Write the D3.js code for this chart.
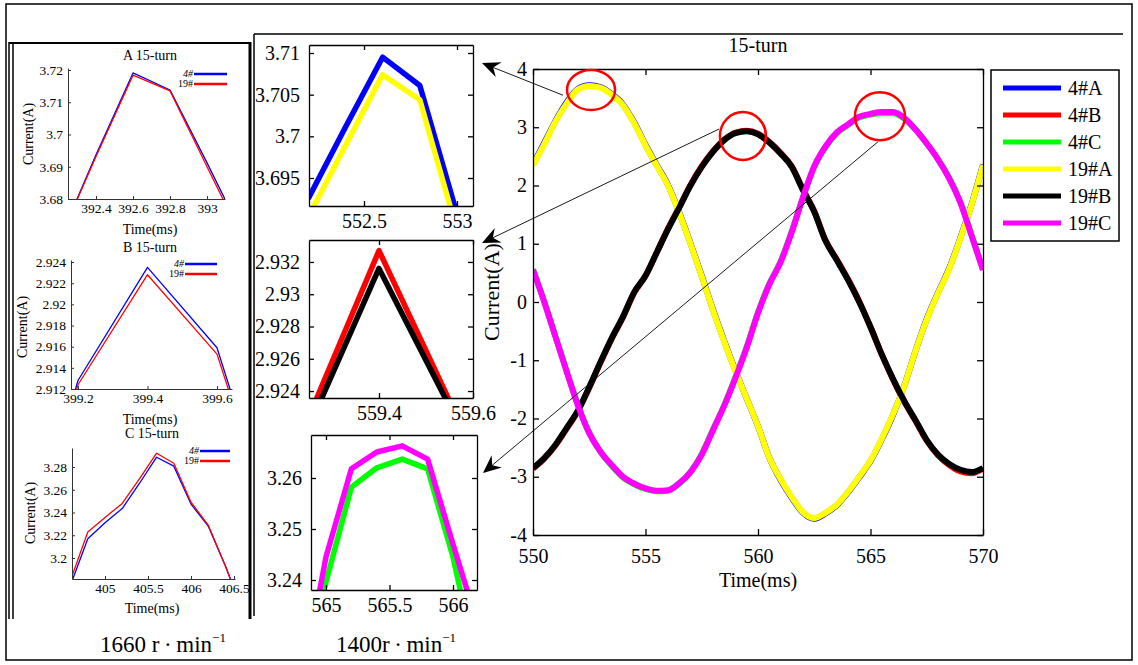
<!DOCTYPE html>
<html><head><meta charset="utf-8">
<script src="https://cdn.jsdelivr.net/npm/d3@7"></script>
<style>
body{margin:0;background:#fff}
svg text{font-family:"Liberation Serif","Times New Roman",serif;fill:#000}
</style>
</head><body>
<script>
// ---------------- DATA ----------------
// main chart (15-turn), 1400 r/min
const mainTime = [550,550.5,551,551.5,552,552.5,553,553.5,554,554.5,555,555.5,556,556.5,557,557.5,558,558.5,559,559.5,560,560.5,561,561.5,562,562.5,563,563.5,564,564.5,565,565.5,566,566.5,567,567.5,568,568.5,569,569.5,570];
const a4  = [2.36,2.73,3.11,3.43,3.66,3.72,3.69,3.57,3.39,3.08,2.70,2.35,2.01,1.54,1.01,0.45,-0.13,-0.67,-1.18,-1.66,-2.13,-2.67,-3.05,-3.36,-3.62,-3.72,-3.63,-3.49,-3.27,-3.01,-2.73,-2.36,-1.94,-1.44,-0.84,-0.29,0.16,0.58,1.11,1.69,2.36];
const b4  = [-2.86,-2.69,-2.46,-2.17,-1.87,-1.47,-1.04,-0.63,-0.26,0.16,0.45,0.85,1.26,1.63,2.01,2.33,2.59,2.79,2.91,2.94,2.89,2.75,2.56,2.33,1.93,1.56,1.06,0.73,0.39,0.01,-0.43,-0.90,-1.33,-1.71,-2.04,-2.38,-2.63,-2.80,-2.91,-2.94,-2.86];
const c4  = [0.56,0.01,-0.59,-1.19,-1.77,-2.25,-2.57,-2.81,-3.01,-3.13,-3.21,-3.25,-3.24,-3.12,-2.92,-2.61,-2.19,-1.77,-1.29,-0.77,-0.18,0.31,0.69,1.21,1.79,2.32,2.66,2.90,3.04,3.17,3.22,3.24,3.24,3.15,2.96,2.72,2.45,2.13,1.71,1.14,0.56];
const a19 = [2.35,2.71,3.10,3.41,3.65,3.71,3.68,3.56,3.38,3.07,2.69,2.34,2.00,1.53,1.00,0.44,-0.14,-0.68,-1.19,-1.66,-2.13,-2.67,-3.04,-3.35,-3.61,-3.71,-3.62,-3.48,-3.26,-3.00,-2.72,-2.35,-1.93,-1.44,-0.84,-0.30,0.15,0.57,1.10,1.68,2.35];
const b19 = [-2.85,-2.68,-2.45,-2.16,-1.86,-1.46,-1.03,-0.62,-0.25,0.17,0.45,0.85,1.25,1.62,2.00,2.32,2.58,2.78,2.90,2.93,2.88,2.74,2.55,2.32,1.92,1.55,1.05,0.72,0.38,0.00,-0.43,-0.90,-1.32,-1.70,-2.03,-2.37,-2.62,-2.78,-2.88,-2.92,-2.85];
const c19 = [0.55,0.00,-0.60,-1.20,-1.78,-2.25,-2.57,-2.80,-3.00,-3.12,-3.20,-3.24,-3.23,-3.11,-2.92,-2.62,-2.20,-1.78,-1.30,-0.78,-0.19,0.30,0.68,1.20,1.80,2.33,2.67,2.91,3.05,3.18,3.23,3.26,3.26,3.16,2.96,2.72,2.45,2.12,1.70,1.13,0.55];
const mainSeriesNames = ["4#A","4#B","4#C","19#A","19#B","19#C"];
const mainColors = ["#0000ff","#ff0000","#00ff00","#ffff00","#000000","#ff00ff"];
const mainXTicks = [550,555,560,565,570];
const mainYTicks = [-4,-3,-2,-1,0,1,2,3,4];

// zoomed insets, 1400 r/min
const insAT = [552.2,552.4,552.6,552.8,553.0];
const insA4 = [3.6925,3.7011,3.7095,3.7061,3.6907];
const insA19 = [3.6903,3.6989,3.7074,3.7044,3.6887];
const insAXTicks = [552.5,553];
const insAYTicks = [3.695,3.7,3.705,3.71];

const insBT = [559.2,559.4,559.6];
const insB4 = [2.9189,2.9327,2.9203];
const insB19 = [2.9184,2.9316,2.9202];
const insBXTicks = [559.4,559.6];
const insBYTicks = [2.924,2.926,2.928,2.93,2.932];

const insCT = [564.8,565.0,565.2,565.4,565.6,565.8,566.0,566.2];
const insC4 = [3.2209,3.2396,3.2582,3.2620,3.2637,3.2618,3.2445,3.2219];
const insC19 = [3.2180,3.2445,3.2618,3.2651,3.2663,3.2637,3.2470,3.2308];
const insCXTicks = [565,565.5,566];
const insCYTicks = [3.24,3.25,3.26];

// 1660 r/min comparison panels
const leftAT = [392.2,392.4,392.6,392.8,393.0,393.2];
const leftA4 = [3.6670,3.6937,3.7191,3.7138,3.6912,3.6679];
const leftA19 = [3.6670,3.6932,3.7184,3.7135,3.6900,3.6666];
const leftAXTicks = [392.4,392.6,392.8,393];
const leftAYTicks = [3.68,3.69,3.7,3.71,3.72];

const leftBT = [399.0,399.2,399.4,399.6,399.8];
const leftB4 = [2.8900,2.9128,2.9235,2.9159,2.8951];
const leftB19 = [2.8900,2.9124,2.9228,2.9153,2.8950];
const leftBXTicks = [399.2,399.4,399.6];
const leftBYTicks = [2.912,2.914,2.916,2.918,2.92,2.922,2.924];

const leftCT = [404.6,404.8,405.0,405.2,405.4,405.6,405.8,406.0,406.2,406.4,406.6];
const leftC4 = [3.1763,3.2170,3.2310,3.2435,3.2655,3.2886,3.2807,3.2474,3.2281,3.1930,3.1544];
const leftC19 = [3.1807,3.2228,3.2356,3.2480,3.2695,3.2921,3.2833,3.2491,3.2289,3.1930,3.1526];
const leftCXTicks = [405,405.5,406,406.5];
const leftCYTicks = [3.2,3.22,3.24,3.26,3.28];

// ---------------- DRAWING ----------------
const W = 1138, H = 665;
const svg = d3.select("body").append("svg").attr("width", W).attr("height", H);
svg.append("rect").attr("width", W).attr("height", H).attr("fill", "#fff");
const defs = svg.append("defs");
let clipN = 0;

function styleAxis(g, fs, sw, col) {
  g.select(".domain").attr("stroke", col).attr("stroke-width", sw);
  g.selectAll(".tick line").attr("stroke", col).attr("stroke-width", sw);
  g.selectAll(".tick text").attr("font-size", fs).attr("fill", "#000")
    .attr("font-family", '"Liberation Serif","Times New Roman",serif');
}

function panel(c) {
  const x = d3.scaleLinear().domain(c.xDomain).range([c.left, c.right]);
  const y = d3.scaleLinear().domain(c.yDomain).range([c.bottom, c.top]);
  const id = "clip" + (clipN++);
  defs.append("clipPath").attr("id", id).append("rect")
    .attr("x", c.left).attr("y", c.top).attr("width", c.right - c.left).attr("height", c.bottom - c.top);
  const g = svg.append("g");
  const lg = g.append("g").attr("clip-path", `url(#${id})`);
  const line = d3.line().x(d => x(d[0])).y(d => y(d[1])).curve(c.curve || d3.curveLinear);
  c.series.forEach(s => {
    lg.append("path").datum(s.t.map((t, i) => [t, s.v[i]]))
      .attr("d", line).attr("fill", "none").attr("stroke", s.color)
      .attr("stroke-width", s.w).attr("stroke-linejoin", "round").attr("stroke-linecap", "butt");
  });
  const fmt = d => String(d);
  const col = c.axisColor || "#000";
  const gb = g.append("g").attr("transform", `translate(0,${c.bottom})`)
    .call(d3.axisBottom(x).tickValues(c.xTicks).tickFormat(fmt).tickSizeInner(-c.tick).tickSizeOuter(0).tickPadding(c.xPad));
  styleAxis(gb, c.fs, c.sw, col);
  const gl = g.append("g").attr("transform", `translate(${c.left},0)`)
    .call(d3.axisLeft(y).tickValues(c.yTicks).tickFormat(fmt).tickSizeInner(-c.tick).tickSizeOuter(0).tickPadding(c.yPad));
  styleAxis(gl, c.fs, c.sw, col);
  if (c.yDy) gl.selectAll(".tick text").attr("dy", c.yDy);
  if (c.box) {
    const gt = g.append("g").attr("transform", `translate(0,${c.top})`)
      .call(d3.axisTop(x).tickValues(c.xTicks).tickFormat("").tickSizeInner(-c.tick).tickSizeOuter(0));
    styleAxis(gt, c.fs, c.sw, col);
    const gr = g.append("g").attr("transform", `translate(${c.right},0)`)
      .call(d3.axisRight(y).tickValues(c.yTicks).tickFormat("").tickSizeInner(-c.tick).tickSizeOuter(0));
    styleAxis(gr, c.fs, c.sw, col);
  }
  return {x, y, g};
}

// ---- outer frames ----
svg.append("rect").attr("x", 6).attr("y", 4).attr("width", 1126).attr("height", 656)
  .attr("fill", "none").attr("stroke", "#000").attr("stroke-width", 1.5);
// left panel frame (double left edge, heavy right edge)
svg.append("line").attr("x1", 9).attr("x2", 9).attr("y1", 42).attr("y2", 619).attr("stroke", "#000").attr("stroke-width", 1.5);
svg.append("line").attr("x1", 13).attr("x2", 13).attr("y1", 44).attr("y2", 619).attr("stroke", "#000").attr("stroke-width", 1.5);
svg.append("line").attr("x1", 9).attr("x2", 251).attr("y1", 43).attr("y2", 43).attr("stroke", "#000").attr("stroke-width", 2);
svg.append("line").attr("x1", 250).attr("x2", 250).attr("y1", 42).attr("y2", 619).attr("stroke", "#000").attr("stroke-width", 3);
// right composite frame
svg.append("line").attr("x1", 254).attr("x2", 1123).attr("y1", 34).attr("y2", 34).attr("stroke", "#000").attr("stroke-width", 1.5);
svg.append("line").attr("x1", 254).attr("x2", 254).attr("y1", 34).attr("y2", 616).attr("stroke", "#000").attr("stroke-width", 1.5);

// ---- main chart ----
const mainVals = [a4, b4, c4, a19, b19, c19];
const M = panel({
  left: 533, right: 983, top: 69, bottom: 535,
  xDomain: [550, 570], yDomain: [-4, 4],
  xTicks: mainXTicks, yTicks: mainYTicks, tick: 6, xPad: 14, yPad: 6, fs: 20, sw: 1.3, box: true, yDy: "0.3em",
  curve: d3.curveMonotoneX,
  series: mainVals.map((v, i) => ({t: mainTime, v, color: mainColors[i], w: 6}))
});
svg.append("text").attr("x", 758).attr("y", 52).attr("text-anchor", "middle").attr("font-size", 20).text("15-turn");
svg.append("text").attr("x", 758).attr("y", 587).attr("text-anchor", "middle").attr("font-size", 20).text("Time(ms)");
svg.append("text").attr("transform", "translate(499,292) rotate(-90)").attr("text-anchor", "middle").attr("font-size", 22).text("Current(A)");

// legend
const leg = svg.append("g");
leg.append("rect").attr("x", 991).attr("y", 70).attr("width", 128).attr("height", 171)
  .attr("fill", "#fff").attr("stroke", "#000").attr("stroke-width", 1.5);
mainSeriesNames.forEach((n, i) => {
  const yy = 88 + i * 27;
  leg.append("line").attr("x1", 1003).attr("x2", 1061).attr("y1", yy).attr("y2", yy)
    .attr("stroke", mainColors[i]).attr("stroke-width", 5);
  leg.append("text").attr("x", 1068).attr("y", yy).attr("dy", "0.35em").attr("font-size", 20).text(n);
});

// ---- insets ----
const IA = panel({
  left: 309, right: 473, top: 45, bottom: 206,
  xDomain: [552.2043, 553.086], yDomain: [3.69164, 3.71096],
  xTicks: insAXTicks, yTicks: insAYTicks, tick: 5, xPad: 8, yPad: 9, fs: 20, sw: 1.3, box: true,
  series: [{t: insAT, v: insA4, color: "#0000ff", w: 5.5}, {t: insAT, v: insA19, color: "#ffff00", w: 5.5}]
});
const IB = panel({
  left: 309, right: 473, top: 240, bottom: 398,
  xDomain: [559.2511, 559.6], yDomain: [2.92357, 2.93336],
  xTicks: insBXTicks, yTicks: insBYTicks, tick: 5, xPad: 8, yPad: 9, fs: 20, sw: 1.3, box: true,
  series: [{t: insBT, v: insB4, color: "#ff0000", w: 5.5}, {t: insBT, v: insB19, color: "#000000", w: 5.5}]
});
const IC = panel({
  left: 311, right: 477, top: 435, bottom: 590,
  xDomain: [564.882, 566.189], yDomain: [3.23804, 3.26843],
  xTicks: insCXTicks, yTicks: insCYTicks, tick: 5, xPad: 8, yPad: 9, fs: 20, sw: 1.3, box: true,
  series: [{t: insCT, v: insC4, color: "#00ff00", w: 5.5}, {t: insCT, v: insC19, color: "#ff00ff", w: 5.5}]
});

// ---- red circles + arrows ----
const circles = [[552.58, 3.64, 24, 20], [559.33, 2.85, 23, 24], [565.42, 3.19, 25, 24]];
circles.forEach(([t, v, rx, ry]) => {
  svg.append("ellipse").attr("cx", M.x(t)).attr("cy", M.y(v)).attr("rx", rx).attr("ry", ry)
    .attr("fill", "none").attr("stroke", "#ff0000").attr("stroke-width", 2.5);
});
function arrow(x1, y1, x2, y2) {
  const ang = Math.atan2(y2 - y1, x2 - x1);
  const L = 18, Wd = 8, N = 12;
  const P = ([a, b]) => [x2 + a * Math.cos(ang) - b * Math.sin(ang), y2 + a * Math.sin(ang) + b * Math.cos(ang)];
  const nb = P([-N, 0]);
  svg.append("line").attr("x1", x1).attr("y1", y1).attr("x2", nb[0]).attr("y2", nb[1])
    .attr("stroke", "#000").attr("stroke-width", 0.9);
  svg.append("polygon").attr("points", [[0, 0], [-L, -Wd], [-N, 0], [-L, Wd]].map(P).map(p => p.join(",")).join(" "))
    .attr("fill", "#000");
}
arrow(M.x(551.33), M.y(3.55), 482, 63);
arrow(M.x(558.27), M.y(2.97), 482, 243);
arrow(M.x(565.33), M.y(2.75), 483, 473);

// ---- 1660 r/min panels ----
const lp = {tick: 3, xPad: 4, yPad: 5, fs: 13.5, sw: 1, box: false, axisColor: "#333"};
const LA = panel(Object.assign({}, lp, {
  left: 68, right: 225, top: 68, bottom: 199,
  xDomain: [392.2486, 393.097], yDomain: [3.68, 3.72062],
  xTicks: leftAXTicks, yTicks: leftAYTicks,
  series: [{t: leftAT, v: leftA4, color: "#0000ff", w: 1.3}, {t: leftAT, v: leftA19, color: "#ff0000", w: 1.3}]
}));
const LB = panel(Object.assign({}, lp, {
  left: 71, right: 232, top: 260, bottom: 389,
  xDomain: [399.1799, 399.6432], yDomain: [2.912, 2.92419],
  xTicks: leftBXTicks, yTicks: leftBYTicks,
  series: [{t: leftBT, v: leftB4, color: "#0000ff", w: 1.3}, {t: leftBT, v: leftB19, color: "#ff0000", w: 1.3}]
}));
const LC = panel(Object.assign({}, lp, {
  left: 72, right: 235, top: 448, bottom: 579,
  xDomain: [404.6163, 406.5116], yDomain: [3.18154, 3.2967],
  xTicks: leftCXTicks, yTicks: leftCYTicks,
  series: [{t: leftCT, v: leftC4, color: "#0000ff", w: 1.3}, {t: leftCT, v: leftC19, color: "#ff0000", w: 1.3}]
}));
const leftTitles = [["A 15-turn", 150, 60, 229, 28, 134], ["B 15-turn", 150, 252, 419, 22, 327], ["C 15-turn", 152, 438, 608, 30, 513]];
leftTitles.forEach(([t, x, y, xl, yx, yy]) => {
  svg.append("text").attr("x", x).attr("y", y).attr("text-anchor", "middle").attr("font-size", 14).text(t);
  svg.append("text").attr("x", x).attr("y", xl).attr("dy", "0.35em").attr("text-anchor", "middle").attr("font-size", 14).text("Time(ms)");
  svg.append("text").attr("transform", `translate(${yx},${yy}) rotate(-90)`).attr("dy", "0.35em")
    .attr("text-anchor", "middle").attr("font-size", 14).text("Current(A)");
});
// small legends
const smallLegends = [[194, 227, 74], [185, 217, 264], [200, 230, 451]];
smallLegends.forEach(([x1, x2, y0]) => {
  [["4#", "#0000ff"], ["19#", "#ff0000"]].forEach(([lab, col], i) => {
    const yy = y0 + i * 10;
    svg.append("line").attr("x1", x1).attr("x2", x2).attr("y1", yy).attr("y2", yy).attr("stroke", col).attr("stroke-width", 2.5);
    svg.append("text").attr("x", x1 - 1).attr("y", yy).attr("dy", "0.33em").attr("text-anchor", "end")
      .attr("font-size", 10).attr("font-style", i === 0 ? "italic" : "normal").text(lab);
  });
});

// ---- speed captions ----
function caption(x, txt) {
  const t = svg.append("text").attr("x", x).attr("y", 652).attr("text-anchor", "middle").attr("font-size", 23);
  t.append("tspan").text(txt);
  t.append("tspan").attr("dy", -10).attr("font-size", 13).text("−1");
}
caption(163, "1660 r\u2009·\u2009min");
caption(396, "1400r\u2009·\u2009min");
</script>
</body></html>
